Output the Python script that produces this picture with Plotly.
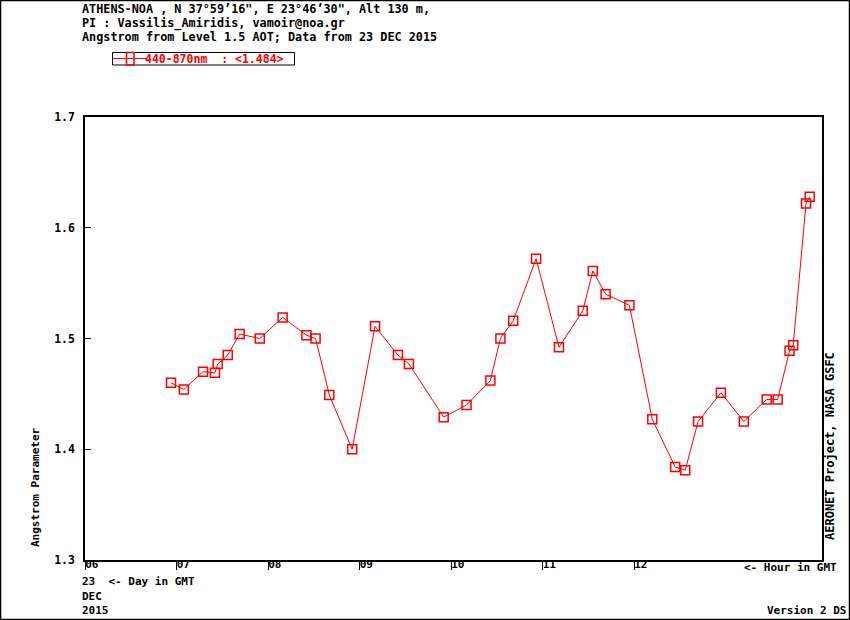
import plotly.graph_objects as go

# Data: hour of day (GMT) on 23 DEC 2015 and Angstrom 440-870nm
hours = [6.94, 7.08, 7.29, 7.42, 7.45, 7.56, 7.69, 7.91, 8.16, 8.42, 8.52, 8.67,
         8.92, 9.17, 9.42, 9.54, 9.92, 10.17, 10.43, 10.54, 10.68, 10.93, 11.18,
         11.44, 11.55, 11.69, 11.95, 12.20, 12.45, 12.56, 12.70, 12.95, 13.20,
         13.45, 13.57, 13.70, 13.74, 13.88, 13.92]
angstrom = [1.460, 1.454, 1.470, 1.469, 1.477, 1.485, 1.504, 1.500, 1.519, 1.503,
            1.500, 1.449, 1.400, 1.511, 1.485, 1.477, 1.429, 1.440, 1.462, 1.500,
            1.516, 1.572, 1.492, 1.525, 1.561, 1.540, 1.530, 1.427, 1.384, 1.381,
            1.425, 1.451, 1.425, 1.445, 1.445, 1.489, 1.494, 1.622, 1.628]
series_name = "440-870nm  : <1.484>"
x_tickvals = [6, 7, 8, 9, 10, 11, 12]
x_ticktext = ["06", "07", "08", "09", "10", "11", "12"]
y_tickvals = [1.3, 1.4, 1.5, 1.6, 1.7]
y_ticktext = ["1.3", "1.4", "1.5", "1.6", "1.7"]
header_lines = [
    "ATHENS-NOA , N 37\u00b059\u201916\", E 23\u00b046\u201930\", Alt 130 m,",
    "PI : Vassilis_Amiridis, vamoir@noa.gr",
    "Angstrom from Level 1.5 AOT; Data from 23 DEC 2015",
]

W, H = 850, 620
L, R, T, B = 85, 822, 117, 560
PW, PH = R - L, B - T

def px(x):
    return (x - L) / PW

def py(y):
    return (B - y) / PH

MONO = "DejaVu Sans Mono"
RED = "#ff0000"

fig = go.Figure()
fig.add_trace(go.Scatter(
    x=hours, y=angstrom, mode="lines+markers",
    name=series_name, showlegend=False,
    line=dict(color=RED, width=1),
    marker=dict(symbol="square-open", size=9, color=RED, line=dict(width=1.5, color=RED)),
))

fig.update_layout(
    width=W, height=H,
    margin=dict(l=L, r=W - R, t=T, b=H - B, pad=0),
    paper_bgcolor="white", plot_bgcolor="white",
    font=dict(family=MONO, size=12, color="black"),
    showlegend=False,
    xaxis=dict(
        range=[6, 6 + PW / 91.5], tickvals=x_tickvals, ticktext=x_ticktext,
        ticks="outside", ticklen=8, tickcolor="black", tickwidth=1,
        ticklabelposition="outside right", ticklabelstandoff=-7, ticklabelshift=-1,
        showline=True, linecolor="black", linewidth=1.5, mirror=True,
        showgrid=False, zeroline=False,
        tickfont=dict(family=MONO, size=11, weight="bold"),
    ),
    yaxis=dict(
        range=[1.3, 1.7], tickvals=y_tickvals, ticktext=y_ticktext,
        ticks="inside", ticklen=6, tickcolor="black", tickwidth=1,
        ticklabelstandoff=6,
        showline=True, linecolor="black", linewidth=1.5, mirror=True,
        showgrid=False, zeroline=False,
        tickfont=dict(family=MONO, size=11.5, weight="bold"),
    ),
)

# outer frame
fig.add_shape(type="rect", xref="paper", yref="paper",
              x0=px(0.5), x1=px(849.5), y0=py(619.5), y1=py(0.5),
              line=dict(color="black", width=1.5), layer="below")

# legend box (drawn like the reference's compact key)
fig.add_shape(type="rect", xref="paper", yref="paper",
              x0=px(112.5), x1=px(294.5), y0=py(65), y1=py(52.5),
              line=dict(color="black", width=1), fillcolor="white")
fig.add_shape(type="line", xref="paper", yref="paper",
              x0=px(113), x1=px(147), y0=py(58.5), y1=py(58.5),
              line=dict(color=RED, width=1))
fig.add_shape(type="rect", xref="paper", yref="paper",
              x0=px(126.5), x1=px(134), y0=py(65), y1=py(52.5),
              line=dict(color=RED, width=1.5))

def note(text, x, y, xanchor="left", yanchor="middle", angle=0, size=12, color="black"):
    fig.add_annotation(text=text, xref="paper", yref="paper", x=px(x), y=py(y),
                       xanchor=xanchor, yanchor=yanchor, showarrow=False,
                       textangle=angle, borderpad=0,
                       font=dict(family=MONO, size=size, color=color, weight="bold"))

note(series_name.replace(" ", "\u00a0"), 144, 59, size=11.5, color=RED)

for i, line in enumerate(header_lines):
    note(line.replace(" ", "\u00a0"), 81, 9 + 14 * i, size=11.8)

note("<-\u00a0Hour\u00a0in\u00a0GMT", 838, 567, xanchor="right", size=11)
note("23\u00a0\u00a0<-\u00a0Day\u00a0in\u00a0GMT", 81, 581, size=11)
note("DEC", 81, 596, size=11)
note("2015", 81, 610, size=11)
note("Version\u00a02\u00a0DS", 847, 610, xanchor="right", size=11)
note("Angstrom\u00a0Parameter", 35, 487, xanchor="center", angle=-90, size=11)
note("AERONET\u00a0Project,\u00a0NASA\u00a0GSFC", 830, 446, xanchor="center", angle=-90, size=12)

fig.write_html("out.html", config={"displayModeBar": False},
               post_script="document.body.style.margin='0';")
